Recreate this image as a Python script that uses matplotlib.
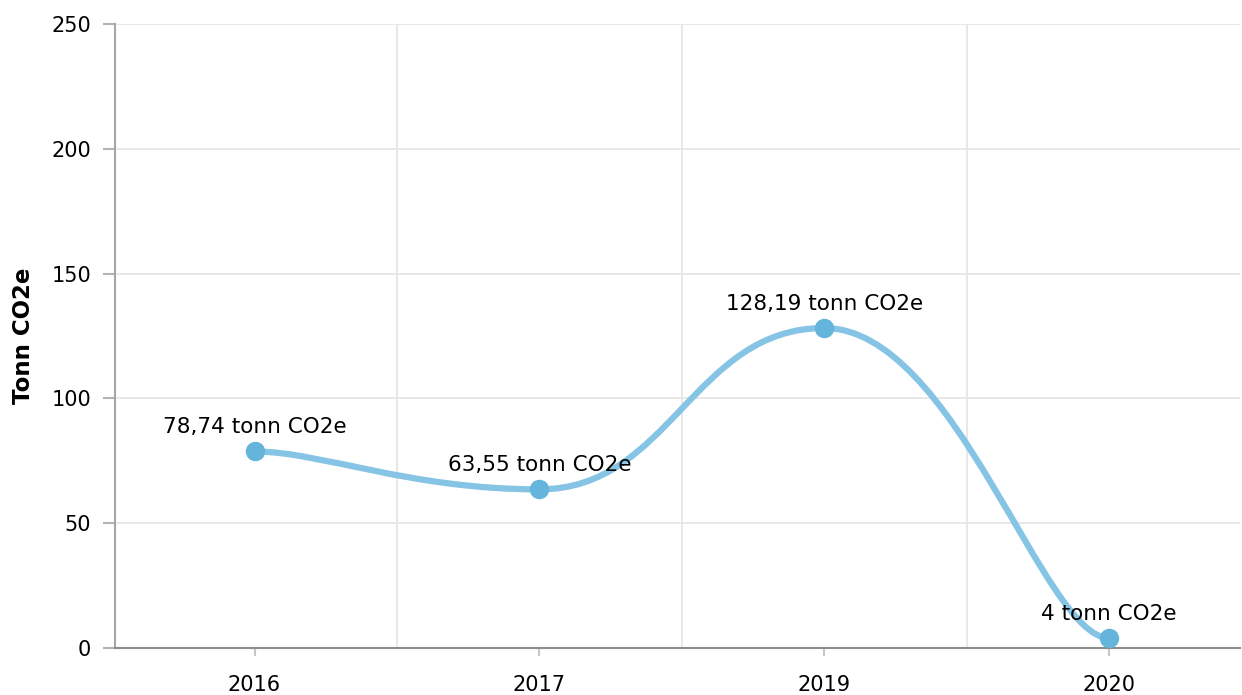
import matplotlib.pyplot as plt
import numpy as np
from matplotlib.path import Path
from matplotlib.patches import PathPatch

years = ['2016', '2017', '2019', '2020']
values = [78.74, 63.55, 128.19, 4]
point_labels = ['78,74 tonn CO2e', '63,55 tonn CO2e', '128,19 tonn CO2e', '4 tonn CO2e']


def smooth_path(x, y, tension=0.77):
    # horizontal-tension bezier smoothing (control points stay at the point's y)
    t = 1 - tension
    pts = list(zip(x, y))
    n = len(pts)
    verts = [pts[0]]
    codes = [Path.MOVETO]
    for i in range(n - 1):
        p0 = pts[max(i - 1, 0)]
        p1 = pts[i]
        p2 = pts[i + 1]
        p3 = pts[min(i + 2, n - 1)]
        a = (p1[0] + t * (p2[0] - p0[0]), p1[1])
        b = (p2[0] + t * (p1[0] - p3[0]), p2[1])
        verts += [a, b, p2]
        codes += [Path.CURVE4] * 3
    return Path(verts, codes)


fig = plt.figure(figsize=(12.42, 6.95), dpi=100)
ax = fig.add_axes([115 / 1242, 47 / 695, 1125 / 1242, 624 / 695])

x = np.arange(len(years))
ax.add_patch(PathPatch(smooth_path(x, values), facecolor='none',
                       edgecolor='#85c4e4', lw=4.5, capstyle='round', zorder=3))
ax.plot(x, values, 'o', color='#64b4dc', markersize=13, zorder=4)

for xi, v, lab in zip(x, values, point_labels):
    ax.annotate(lab, (xi, v), xytext=(0, 13), textcoords='offset points',
                ha='center', va='baseline', fontsize=15.5, color='black', zorder=5)

ax.set_xlim(-0.49, 3.46)
ax.set_ylim(0, 250)
ax.set_yticks(np.arange(0, 251, 50))
ax.set_xticks(x)
ax.set_xticklabels(years)
ax.set_xticks(x[:-1] + 0.5, minor=True)

ax.grid(axis='y', color='#e6e6e6', lw=1.3)
ax.grid(axis='x', which='minor', color='#e6e6e6', lw=1.3)
ax.set_axisbelow(True)

for s in ['top', 'right']:
    ax.spines[s].set_visible(False)
ax.spines['left'].set_color('#a6a6a6')
ax.spines['left'].set_linewidth(1.5)
ax.spines['bottom'].set_color('#8c8c8c')
ax.spines['bottom'].set_linewidth(1.5)

ax.tick_params(axis='y', length=8.6, width=1.5, color='#b3b3b3', pad=8.6, labelsize=15)
ax.tick_params(axis='x', which='major', length=5.8, width=1.5, color='#c8c8c8', pad=13.5, labelsize=15)
ax.tick_params(axis='x', which='minor', length=0)

ax.set_ylabel('Tonn CO2e', fontsize=16.5, fontweight='bold')
ax.yaxis.set_label_coords(-80 / 1125, 0.5)

fig.savefig('out.png', dpi=100)
